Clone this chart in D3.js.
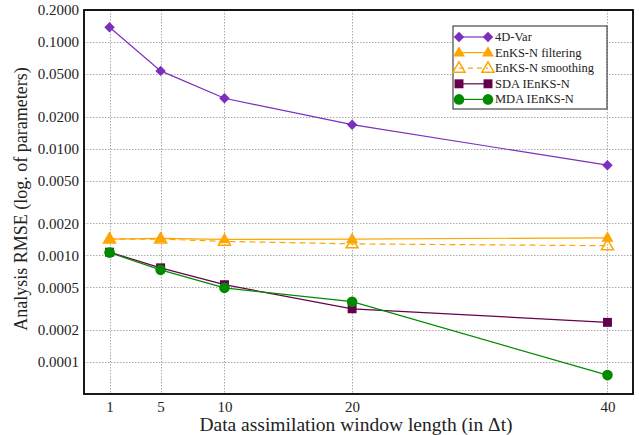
<!DOCTYPE html>
<html>
<head>
<meta charset="utf-8">
<script src="https://cdn.jsdelivr.net/npm/d3@7"></script>
<style>
  #fig text { font-family: "Liberation Serif", "Times New Roman", serif !important; }
</style>
</head>
<body style="margin:0;background:#fff">
<svg id="fig" width="639" height="435"></svg>
<script>
// Window lengths (in Δt)
const windowLengths = [1, 5, 10, 20, 40];

// Analysis RMSE for each method
const var4d        = [0.138, 0.0537, 0.0297, 0.0168, 0.0070];
const enksFilter   = [0.00142, 0.00144, 0.00141, 0.00142, 0.00146];
const enksSmooth   = [0.00142, 0.00142, 0.00135, 0.00128, 0.00123];
const sdaIenks     = [0.00107, 0.000763, 0.00053, 0.000315, 0.000235];
const mdaIenks     = [0.00106, 0.00073, 0.000495, 0.000367, 0.0000752];

// Axis ticks
const yTicks = [0.2, 0.1, 0.05, 0.02, 0.01, 0.005, 0.002, 0.001, 0.0005, 0.0002, 0.0001];
const xTicks = [1, 5, 10, 20, 40];

const series = [
  { name: "4D-Var",              values: var4d,      color: "#7b2fbe", shape: "diamond",  fill: true,  dash: null },
  { name: "EnKS-N filtering",    values: enksFilter, color: "#ffa500", shape: "triangle", fill: true,  dash: null },
  { name: "EnKS-N smoothing",    values: enksSmooth, color: "#ffa500", shape: "triangle", fill: false, dash: "6,4" },
  { name: "SDA IEnKS-N",         values: sdaIenks,   color: "#65004b", shape: "square",   fill: true,  dash: null },
  { name: "MDA IEnKS-N",         values: mdaIenks,   color: "#008a00", shape: "circle",   fill: true,  dash: null }
];

const FONT = "Liberation Serif, Times New Roman, serif";
const svg = d3.select("#fig");
const plotL = 84, plotR = 633, plotT = 10, plotB = 394;

const x = d3.scaleLinear().domain([-1, 42]).range([plotL, plotR]);
const y = d3.scaleLog().domain([0.00005, 0.2]).range([plotB, plotT]);

// Grid lines
const grid = svg.append("g").attr("stroke", "#aaa").attr("stroke-width", 1).attr("stroke-dasharray", "1.5,1.5");
yTicks.forEach(t => {
  grid.append("line").attr("x1", plotL).attr("x2", plotR)
    .attr("y1", Math.round(y(t)) + 0.5).attr("y2", Math.round(y(t)) + 0.5);
});
xTicks.forEach(t => {
  grid.append("line").attr("y1", plotT).attr("y2", plotB)
    .attr("x1", Math.round(x(t)) + 0.5).attr("x2", Math.round(x(t)) + 0.5);
});

// Axes (labels only; the frame is drawn separately)
const yAxis = svg.append("g").attr("transform", `translate(${plotL},0)`)
  .call(d3.axisLeft(y).tickValues(yTicks).tickFormat(d3.format(".4f")).tickSize(0).tickPadding(5));
yAxis.attr("font-family", FONT).attr("font-size", 15);
yAxis.select(".domain").remove();
yAxis.selectAll("text").attr("fill", "#222").style("font-family", FONT);

const xAxis = svg.append("g").attr("transform", `translate(0,${plotB})`)
  .call(d3.axisBottom(x).tickValues(xTicks).tickFormat(d3.format("d")).tickSize(0).tickPadding(0));
xAxis.attr("font-family", FONT).attr("font-size", 15);
xAxis.select(".domain").remove();
xAxis.selectAll("text").attr("fill", "#222").attr("dy", null).attr("y", 17.5).style("font-family", FONT);

// Axis titles
svg.append("text").attr("x", 356).attr("y", 431)
  .attr("font-family", FONT).style("font-family", FONT).attr("font-size", 19.5).attr("fill", "#222")
  .attr("text-anchor", "middle").text("Data assimilation window length (in Δt)");
svg.append("text").attr("transform", `translate(27,199) rotate(-90)`)
  .attr("font-family", FONT).style("font-family", FONT).attr("font-size", 18).attr("fill", "#222")
  .attr("text-anchor", "middle").text("Analysis RMSE (log. of parameters)");

// Marker symbols
function symbolFor(shape) {
  switch (shape) {
    case "diamond":  return d3.symbol().type(d3.symbolSquare).size(55);
    case "triangle": return d3.symbol().type(d3.symbolTriangle).size(62);
    case "square":   return d3.symbol().type(d3.symbolSquare).size(80);
    case "circle":   return d3.symbol().type(d3.symbolCircle).size(88);
  }
}
function transformFor(shape, px, py) {
  if (shape === "diamond") return `translate(${px},${py}) rotate(45)`;
  if (shape === "triangle") return `translate(${px},${py + 0.5})`;
  return `translate(${px},${py})`;
}

const line = d3.line().x((d, i) => x(windowLengths[i])).y(d => y(d));

const plot = svg.append("g");
series.forEach(s => {
  plot.append("path").datum(s.values)
    .attr("fill", "none").attr("stroke", s.color).attr("stroke-width", 1.2)
    .attr("stroke-dasharray", s.dash).attr("d", line);
  plot.selectAll(null).data(s.values).enter().append("path")
    .attr("d", symbolFor(s.shape))
    .attr("transform", (d, i) => transformFor(s.shape, x(windowLengths[i]), y(d)))
    .attr("fill", s.fill ? s.color : "none")
    .attr("stroke", s.color).attr("stroke-width", s.fill ? 0 : 1.5);
});

// Frame
svg.append("rect").attr("x", plotL).attr("y", plotT).attr("width", plotR - plotL).attr("height", plotB - plotT)
  .attr("fill", "none").attr("stroke", "#000").attr("stroke-width", 1.8);

// Legend
const lg = svg.append("g");
lg.append("rect").attr("x", 453).attr("y", 26).attr("width", 154).attr("height", 83)
  .attr("fill", "#fff").attr("stroke", "#222").attr("stroke-width", 1);
series.forEach((s, i) => {
  const yy = 37 + i * 15.6;
  lg.append("line").attr("x1", 459).attr("x2", 488).attr("y1", yy).attr("y2", yy)
    .attr("stroke", s.color).attr("stroke-width", 1.2).attr("stroke-dasharray", s.dash ? "5,4" : null);
  [459, 488].forEach(px => {
    lg.append("path").attr("d", symbolFor(s.shape))
      .attr("transform", transformFor(s.shape, px, yy))
      .attr("fill", s.fill ? s.color : "none")
      .attr("stroke", s.color).attr("stroke-width", s.fill ? 0 : 1.5);
  });
  lg.append("text").attr("x", 495).attr("y", yy + 4)
    .attr("font-family", FONT).style("font-family", FONT).attr("font-size", 12.5).attr("fill", "#222").text(s.name);
});
</script>
</body>
</html>
